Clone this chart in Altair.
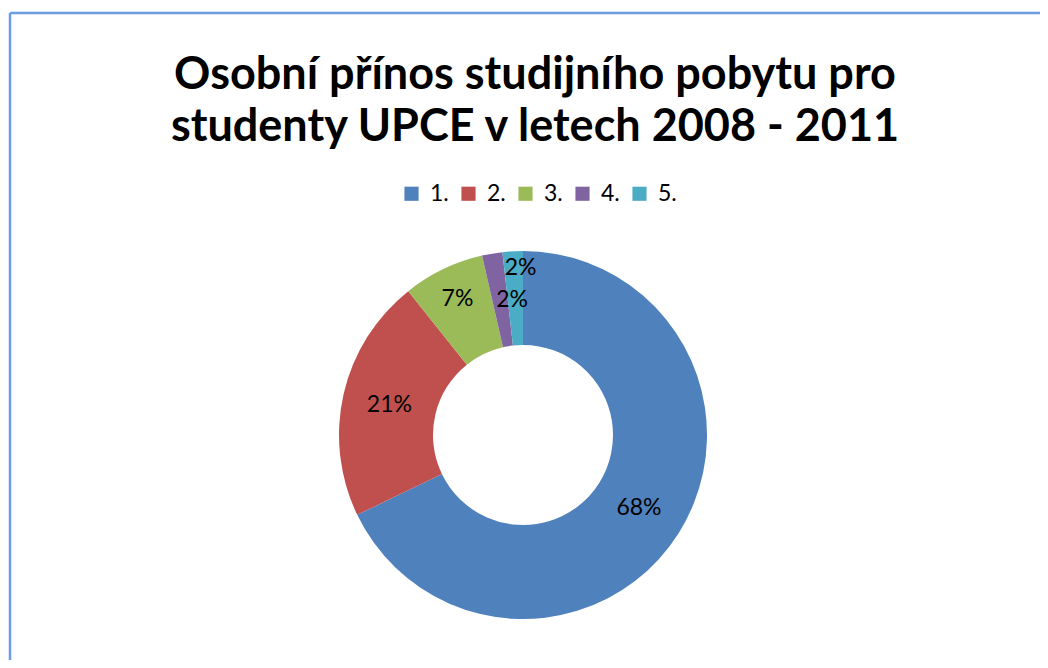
import altair as alt
import pandas as pd

# ---- data ----
categories = ["1.", "2.", "3.", "4.", "5."]
counts = [38, 12, 4, 1, 1]
colors = ["#4F81BD", "#C0504D", "#9BBB59", "#8064A2", "#4BACC6"]
title_lines = ["Osobní přínos studijního pobytu pro", "studenty UPCE v letech 2008 - 2011"]

df = pd.DataFrame({"kategorie": categories, "pocet": counts, "poradi": list(range(len(categories)))})

FONT = "Lato"
CX, CY = 513, 422  # donut centre inside the plot area

base = alt.Chart(df).transform_joinaggregate(
    celkem="sum(pocet)"
).transform_calculate(
    popisek="format(datum.pocet / datum.celkem, '.0%')"
)

theta = alt.Theta("pocet:Q", stack=True)
order = alt.Order("poradi:Q", sort="ascending")

arcs = base.mark_arc(innerRadius=90, outerRadius=184).encode(
    theta=theta,
    order=order,
    x=alt.value(CX),
    y=alt.value(CY),
    color=alt.Color(
        "kategorie:N",
        scale=alt.Scale(domain=categories, range=colors),
        sort=categories,
        legend=alt.Legend(
            title=None,
            orient="none",
            legendX=390,
            legendY=169,
            direction="horizontal",
            symbolType="square",
            symbolSize=200,
            symbolStrokeWidth=0,
            labelFont=FONT,
            labelFontSize=23,
            labelColor="#000000",
            labelOffset=7,
            columnPadding=8,
        ),
    ),
)


def labels(cats, radius, dx=0, dy=0):
    return base.mark_text(
        radius=radius, font=FONT, fontSize=23, color="#000000", dx=dx, dy=dy
    ).encode(
        theta=theta,
        order=order,
        x=alt.value(CX),
        y=alt.value(CY),
        text="popisek:N",
        opacity=alt.condition(
            alt.FieldOneOfPredicate(field="kategorie", oneOf=cats), alt.value(1), alt.value(0)
        ),
    )


lab_main = labels(["1.", "2."], 137)
lab_3 = labels(["3."], 151)
lab_4 = labels(["4."], 137, dx=12)
lab_5 = labels(["5."], 167, dx=7)

title = alt.Chart(pd.DataFrame({"t": [0]})).mark_text(
    font=FONT, fontSize=45, fontWeight="bold", color="#000000",
    baseline="alphabetic", align="center", lineHeight=52,
).encode(x=alt.value(525), y=alt.value(76), text=alt.value(title_lines))

frame_left = alt.Chart(pd.DataFrame({"t": [0]})).mark_rule(
    color="#6B9DE0", strokeWidth=2.5
).encode(x=alt.value(0), y=alt.value(0), y2=alt.value(660))
frame_top = alt.Chart(pd.DataFrame({"t": [0]})).mark_rule(
    color="#6B9DE0", strokeWidth=2.5
).encode(x=alt.value(0), x2=alt.value(1040), y=alt.value(0))

chart = alt.layer(
    arcs, lab_main, lab_3, lab_4, lab_5, title, frame_left, frame_top
).properties(
    width=1030,
    height=647,
    autosize=alt.AutoSizeParams(type="none"),
    padding={"left": 2, "top": 5, "right": 0, "bottom": 0},
    background="#FFFFFF",
).configure_view(stroke=None)

chart.save("out.html", embed_options={"renderer": "svg", "actions": False})
